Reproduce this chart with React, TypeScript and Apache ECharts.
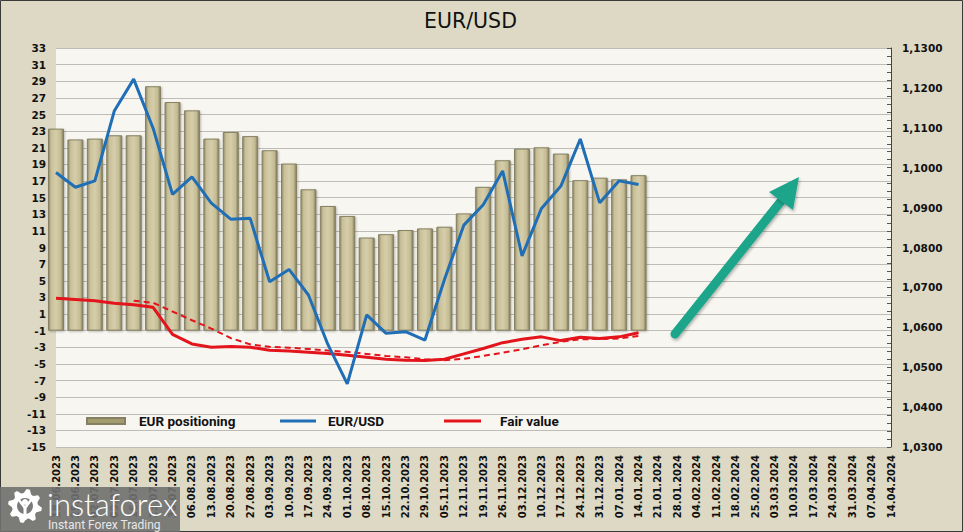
import React, { useEffect, useRef } from "react";
import * as echarts from "echarts";

const categories = [
  "18.06.2023", "25.06.2023", "02.07.2023", "09.07.2023", "16.07.2023", "23.07.2023", "30.07.2023",
  "06.08.2023", "13.08.2023", "20.08.2023", "27.08.2023", "03.09.2023", "10.09.2023", "17.09.2023",
  "24.09.2023", "01.10.2023", "08.10.2023", "15.10.2023", "22.10.2023", "29.10.2023", "05.11.2023",
  "12.11.2023", "19.11.2023", "26.11.2023", "03.12.2023", "10.12.2023", "17.12.2023", "24.12.2023",
  "31.12.2023", "07.01.2024", "14.01.2024", "21.01.2024", "28.01.2024", "04.02.2024", "11.02.2024",
  "18.02.2024", "25.02.2024", "03.03.2024", "10.03.2024", "17.03.2024", "24.03.2024", "31.03.2024",
  "07.04.2024", "14.04.2024",
];

const positioning = [
  23.3, 22.0, 22.1, 22.5, 22.5, 28.4, 26.5, 25.5, 22.1, 22.9, 22.4, 20.7, 19.1, 16.0, 14.0, 12.8,
  10.2, 10.6, 11.1, 11.3, 11.5, 13.1, 16.3, 19.5, 20.9, 21.05, 20.3, 17.1, 17.4, 17.2, 17.7,
];

const eurusd = [
  1.0988, 1.0951, 1.0967, 1.1142, 1.1222, 1.1099, 1.0933, 1.0977, 1.0911, 1.0871, 1.0873, 1.0714,
  1.0745, 1.0681, 1.0557, 1.0458, 1.0631, 1.0585, 1.0589, 1.0568, 1.0719, 1.0856, 1.0907, 1.0992,
  1.0779, 1.0898, 1.0954, 1.1072, 1.0912, 1.0967, 1.0958,
];

const fairValue = [
  2.9, 2.75, 2.6, 2.3, 2.1, 1.8, -1.45, -2.6, -3.0, -2.9, -3.0, -3.35, -3.45, -3.6, -3.75, -3.95,
  -4.2, -4.45, -4.55, -4.6, -4.45, -3.8, -3.15, -2.45, -2.05, -1.75, -2.2, -1.8, -1.95, -1.75, -1.25,
];

const fairValueTrend: (number | null)[] = [
  null, null, null, null, 2.6, 2.35, 1.3, 0.25, -0.75, -1.9, -2.65, -2.95, -3.05, -3.2, -3.4, -3.55,
  -3.8, -4.05, -4.2, -4.45, -4.55, -4.4, -4.05, -3.65, -3.25, -2.75, -2.35, -2.05, -2.0, -1.95, -1.65,
];

const leftMin = -15;
const leftMax = 33;
const leftStep = 2;
const rightMin = 1.03;
const rightMax = 1.13;
const rightStep = 0.01;
const barBase = -1;

function gearPoints(cx: number, cy: number, ro: number, ri: number, teeth: number) {
  const pts: number[][] = [];
  const n = teeth * 4;
  for (let i = 0; i < n; i++) {
    const a = (i / n) * Math.PI * 2 - Math.PI / 2 + Math.PI / n;
    const r = i % 4 < 2 ? ro : ri;
    pts.push([cx + r * Math.cos(a), cy + r * Math.sin(a)]);
  }
  return pts;
}

const axisFont = "DejaVu Sans";
const WZ = 200;

function buildOption(): any {
  const barGradient = new echarts.graphic.LinearGradient(0, 0, 1, 0, [
    { offset: 0, color: "#8f8966" },
    { offset: 0.18, color: "#c9c09a" },
    { offset: 0.5, color: "#d6cea9" },
    { offset: 0.82, color: "#c4bb94" },
    { offset: 1, color: "#7c7657" },
  ]);
  const legendText = { fontFamily: "Roboto", fontWeight: "bold", fontSize: 13.5, color: "#111" };
  return {
    animation: false,
    backgroundColor: "#ddd9c4",
    title: {
      text: "EUR/USD",
      left: 424,
      top: 10,
      padding: 0,
      textStyle: { fontFamily: axisFont, fontSize: 20.5, fontWeight: "normal", color: "#111" },
    },
    grid: {
      left: 56,
      right: 72,
      top: 48,
      bottom: 85,
      show: true,
      backgroundColor: "#f7f6f1",
      borderWidth: 0,
    },
    legend: [
      {
        left: 86,
        top: 414,
        padding: 0,
        itemWidth: 38,
        itemHeight: 6,
        data: [{ name: "EUR positioning", icon: "rect", itemStyle: { color: "#a39c6f" } }],
        textStyle: { ...legendText, padding: [0, 0, 0, 9] },
      },
      {
        left: 280,
        top: 414,
        padding: 0,
        itemWidth: 36,
        itemHeight: 3,
        data: [{ name: "EUR/USD", icon: "rect", itemStyle: { color: "#1f6eb6" } }],
        textStyle: { ...legendText, padding: [0, 0, 0, 7] },
      },
      {
        left: 444,
        top: 414,
        padding: 0,
        itemWidth: 37,
        itemHeight: 3,
        data: [{ name: "Fair value", icon: "rect", itemStyle: { color: "#e3141b" } }],
        textStyle: { ...legendText, padding: [0, 0, 0, 14] },
      },
    ],
    xAxis: {
      type: "category",
      data: categories,
      boundaryGap: false,
      axisLine: { show: false },
      axisTick: { show: false },
      splitLine: { show: false },
      axisLabel: {
        rotate: 90,
        interval: 0,
        margin: 8,
        fontFamily: axisFont,
        fontWeight: "bold",
        fontSize: 10,
        color: "#111",
      },
    },
    yAxis: [
      {
        type: "value",
        min: leftMin,
        max: leftMax,
        interval: leftStep,
        startValue: barBase,
        axisLine: { show: false },
        axisTick: { show: false },
        splitLine: { show: true, lineStyle: { color: "#bdbcb8", width: 1 } },
        axisLabel: { margin: 10, fontFamily: axisFont, fontWeight: "bold", fontSize: 10.5, color: "#111" },
      },
      {
        type: "value",
        position: "right",
        min: rightMin,
        max: rightMax,
        interval: rightStep,
        axisLine: { show: true, lineStyle: { color: "#7a2a2a", width: 1 } },
        axisTick: { show: true, inside: true, length: 4, lineStyle: { color: "#555" } },
        minorTick: { show: true, splitNumber: 5, length: 4, lineStyle: { color: "#555" } },
        splitLine: { show: false },
        axisLabel: {
          margin: 11,
          fontFamily: axisFont,
          fontWeight: "bold",
          fontSize: 10.5,
          color: "#111",
          formatter: (v: number) => v.toFixed(4).replace(".", ","),
        },
      },
    ],
    series: [
      {
        name: "EUR positioning",
        type: "bar",
        yAxisIndex: 0,
        barWidth: 16,
        data: positioning,
        itemStyle: {
          color: barGradient,
          borderColor: "#858062",
          borderWidth: 1,
          shadowColor: "rgba(0,0,0,0.25)",
          shadowBlur: 2,
          shadowOffsetX: 1,
          shadowOffsetY: 1,
        },
        z: 2,
      },
      {
        name: "Fair value trend",
        type: "line",
        yAxisIndex: 0,
        data: fairValueTrend,
        showSymbol: false,
        symbol: "none",
        lineStyle: { color: "#e3141b", width: 2, type: [6, 4] },
        z: 3,
      },
      {
        name: "Fair value",
        type: "line",
        yAxisIndex: 0,
        data: fairValue,
        showSymbol: false,
        symbol: "none",
        lineStyle: { color: "#e3141b", width: 3 },
        z: 4,
      },
      {
        name: "EUR/USD",
        type: "line",
        yAxisIndex: 1,
        data: eurusd,
        showSymbol: false,
        symbol: "none",
        lineStyle: { color: "#1f6eb6", width: 3 },
        z: 5,
      },
    ],
    graphic: [
      {
        type: "polyline",
        z: 100,
        shape: { points: [[675, 334], [782, 200]] },
        style: {
          stroke: "#1ba58a",
          lineWidth: 9,
          lineCap: "round",
          shadowColor: "rgba(0,0,0,0.3)",
          shadowBlur: 3,
          shadowOffsetX: 1,
          shadowOffsetY: 2,
        },
      },
      {
        type: "polygon",
        z: 100,
        shape: { points: [[799, 177], [769, 192], [793, 210]] },
        style: {
          fill: "#1ba58a",
          shadowColor: "rgba(0,0,0,0.3)",
          shadowBlur: 3,
          shadowOffsetX: 1,
          shadowOffsetY: 2,
        },
      },
      {
        type: "rect",
        z: 90,
        shape: { x: 0.5, y: 0.5, width: 962, height: 531 },
        style: { fill: "none", stroke: "#3a3a3a", lineWidth: 1 },
      },
      {
        type: "rect",
        z: WZ,
        shape: { x: 0, y: 487, width: 180, height: 45 },
        style: { fill: "rgba(112,112,112,0.9)" },
      },
      {
        type: "polygon",
        z: WZ + 1,
        shape: { points: gearPoints(25, 506, 17, 13, 8) },
        style: { fill: "#ffffff" },
      },
      {
        type: "circle",
        z: WZ + 2,
        shape: { cx: 25, cy: 506, r: 8 },
        style: { fill: "#7a7a7a" },
      },
      {
        type: "circle",
        z: WZ + 3,
        shape: { cx: 25, cy: 502, r: 3 },
        style: { fill: "#ffffff" },
      },
      {
        type: "polyline",
        z: WZ + 3,
        shape: { points: [[19, 500], [25, 508], [31, 500]] },
        style: { stroke: "#ffffff", lineWidth: 2.5, fill: "none" },
      },
      {
        type: "rect",
        z: WZ + 3,
        shape: { x: 23.5, y: 507, width: 3, height: 13 },
        style: { fill: "#ffffff" },
      },
      {
        type: "text",
        z: WZ + 4,
        x: 47,
        y: 504,
        style: {
          text: "instaforex",
          fill: "#ffffff",
          fontFamily: "Lato",
          fontWeight: 300,
          fontSize: 31,
          verticalAlign: "middle",
        },
      },
      {
        type: "text",
        z: WZ + 4,
        x: 48,
        y: 525,
        style: {
          text: "Instant Forex Trading",
          fill: "#e8e8e8",
          fontFamily: "Roboto",
          fontSize: 12,
          verticalAlign: "middle",
        },
      },
    ],
  };
}

export default function App() {
  const ref = useRef<HTMLDivElement>(null);
  useEffect(() => {
    document.body.style.margin = "0";
    const chart = echarts.init(ref.current!, null, { renderer: "svg" });
    chart.setOption(buildOption());
    return () => chart.dispose();
  }, []);
  return <div ref={ref} style={{ width: 963, height: 532 }} />;
}
